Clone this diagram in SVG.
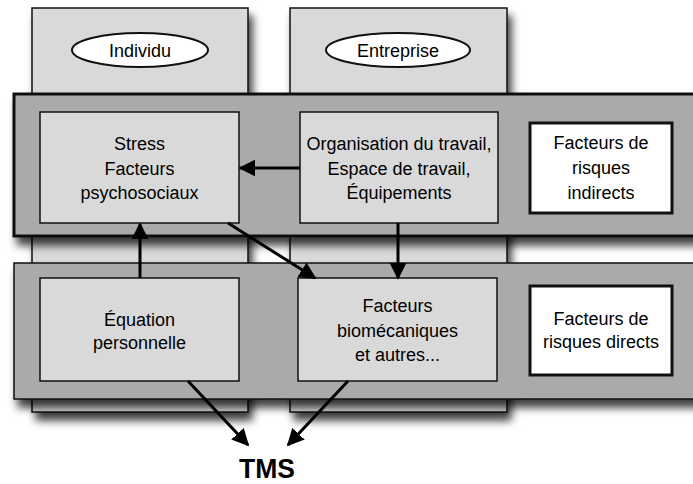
<svg xmlns="http://www.w3.org/2000/svg" width="693" height="484" viewBox="0 0 693 484">
<style>
text{font-family:"Liberation Sans",Arial,sans-serif;font-size:18px;fill:#000;text-anchor:middle}
.col{fill:#d9d9d9;stroke:#111;stroke-width:1.5}
.band{fill:#aaaaaa;stroke:#111}
.box{fill:#d9d9d9;stroke:#111;stroke-width:1.5}
.wbox{fill:#fff;stroke:#111;stroke-width:3}
.ell{fill:#fff;stroke:#111;stroke-width:2}
.conn line{stroke:#000;stroke-width:3}
</style>
<defs>
<filter id="sh" x="-20%" y="-20%" width="140%" height="150%">
<feDropShadow dx="4" dy="8" stdDeviation="4.5" flood-color="#000" flood-opacity="0.75"/>
</filter>
<marker id="ah" viewBox="0 0 10 10" refX="9" refY="5" markerWidth="5.7" markerHeight="5.7" orient="auto" markerUnits="strokeWidth">
<path d="M0,0 L10,5 L0,10 z" fill="#000"/>
</marker>
</defs>
<rect width="693" height="484" fill="#fff"/>
<g id="col-individu" filter="url(#sh)">
<rect class="col" x="32" y="8" width="216" height="404"/>
</g>
<g id="col-entreprise" filter="url(#sh)">
<rect class="col" x="290" y="8" width="217" height="404"/>
</g>
<g id="individu">
<ellipse class="ell" cx="140" cy="50" rx="68" ry="17"/>
<text x="140" y="57">Individu</text>
</g>
<g id="entreprise">
<ellipse class="ell" cx="398" cy="50" rx="72" ry="17"/>
<text x="398" y="57">Entreprise</text>
</g>
<g id="band-indirect" filter="url(#sh)">
<rect class="band" x="14" y="94" width="700" height="142" stroke-width="3"/>
</g>
<g id="band-direct" filter="url(#sh)">
<rect class="band" x="14" y="263" width="700" height="136" stroke-width="1.5"/>
</g>
<g id="stress">
<rect class="box" x="40" y="112" width="199" height="111"/>
<text x="139.5" y="150">Stress</text>
<text x="139.5" y="175">Facteurs</text>
<text x="139.5" y="199">psychosociaux</text>
</g>
<g id="organisation">
<rect class="box" x="300" y="112" width="198" height="111"/>
<text x="399" y="150">Organisation du travail,</text>
<text x="399" y="174.5">Espace de travail,</text>
<text x="399" y="199">Équipements</text>
</g>
<g id="indirects">
<rect class="wbox" x="530" y="123" width="142" height="90"/>
<text x="601" y="149">Facteurs de</text>
<text x="601" y="174">risques</text>
<text x="601" y="199">indirects</text>
</g>
<g id="equation">
<rect class="box" x="40" y="278" width="199" height="103"/>
<text x="139.5" y="326">Équation</text>
<text x="139.5" y="349">personnelle</text>
</g>
<g id="biomecaniques">
<rect class="box" x="298" y="278" width="199" height="103"/>
<text x="397.5" y="312">Facteurs</text>
<text x="397.5" y="337">biomécaniques</text>
<text x="397.5" y="361">et autres...</text>
</g>
<g id="directs">
<rect class="wbox" x="530" y="286" width="142" height="89"/>
<text x="601" y="325">Facteurs de</text>
<text x="601" y="348">risques directs</text>
</g>
<g id="tms">
<text x="267" y="478" textLength="56" lengthAdjust="spacingAndGlyphs" style="font-size:28px;font-weight:bold">TMS</text>
</g>
<g class="conn" id="connectors">
<line x1="300" y1="168" x2="240" y2="168" marker-end="url(#ah)"/>
<line x1="140" y1="278" x2="140" y2="224" marker-end="url(#ah)"/>
<line x1="228" y1="223" x2="315" y2="278" marker-end="url(#ah)"/>
<line x1="398" y1="223" x2="398" y2="278" marker-end="url(#ah)"/>
<line x1="188" y1="381" x2="248" y2="445" marker-end="url(#ah)"/>
<line x1="348" y1="381" x2="288" y2="445" marker-end="url(#ah)"/>
</g>
</svg>
